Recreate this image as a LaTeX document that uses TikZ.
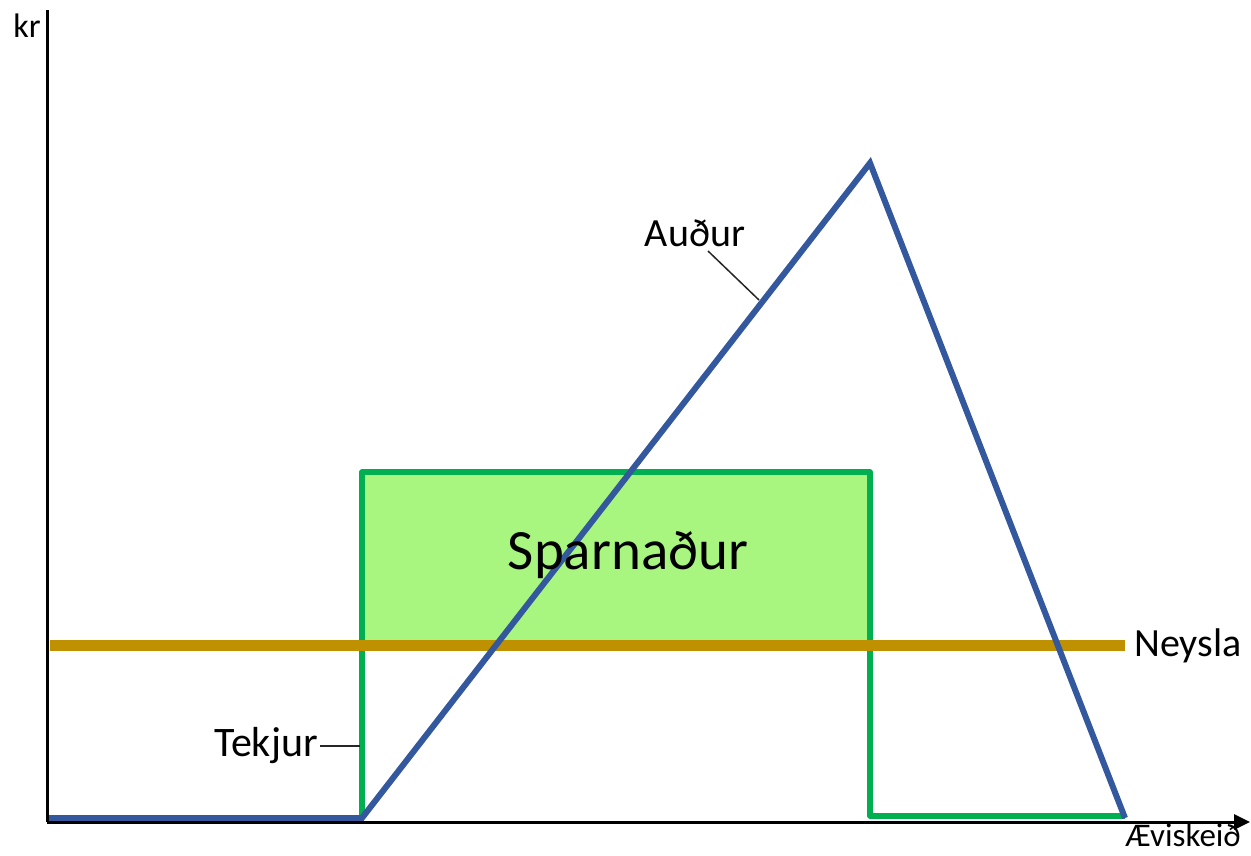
\documentclass[tikz,border=0pt]{standalone}
\usepackage{fontspec}
\setmainfont{Carlito}
\usetikzlibrary{arrows.meta}
\definecolor{auburblue}{RGB}{52,88,158}
\definecolor{incgreen}{RGB}{0,176,80}
\definecolor{savfill}{RGB}{168,245,128}
\definecolor{consgold}{RGB}{191,144,0}
\tikzset{
  axisline/.style={line width=3pt,black},
  wealth/.style={line width=6pt,auburblue,line join=miter},
  income/.style={line width=5.5pt,incgreen,line join=round},
  consumption/.style={line width=11pt,consgold},
  leader/.style={line width=1.5pt,black!85},
  lbl/.style={inner sep=0pt,font=\fontsize{40}{44}\selectfont}
}
\begin{document}
\begin{tikzpicture}[x=1pt,y=-1pt]
\useasboundingbox (0,0) rectangle (1251,855);
% key points
\coordinate (o) at (47,822);
\coordinate (ytop) at (47,10);
\coordinate (xend) at (1250,822);
\coordinate (w0) at (47,818);
\coordinate (w1) at (362,818);
\coordinate (wpeak) at (870,163);
\coordinate (w2) at (1125,818);
\coordinate (g1) at (362,472);
\coordinate (g2) at (870,472);
\coordinate (g3) at (870,816);
\coordinate (g4) at (1125,816);
\coordinate (n0) at (50,645);
\coordinate (n1) at (1125,645);
% savings fill
\fill[savfill] (362,472) rectangle (870,645);
% income
\draw[income] (362,818) -- (g1) -- (g2) -- (g3) -- (g4);
% consumption
\draw[consumption] (n0) -- (n1);
% wealth
\draw[wealth] (w0) -- (w1) -- (wpeak) -- (w2);
% axes
\draw[axisline] (ytop) -- (o);
\draw[axisline,-{Triangle[length=16pt,width=15pt]}] (o) -- (xend);
% labels
\node[lbl,font=\fontsize{34}{36}\selectfont,anchor=base east] (kr) at (41,37) {kr};
\node[lbl,font=\fontsize{33}{36}\selectfont,anchor=base east] (aevi) at (1241,846) {Æviskeið};
\node[lbl,anchor=west] (neysla) at (1134,646) {Neysla};
\node[lbl,font=\fontsize{57}{62}\selectfont] (spar) at (628,555) {Sparnaður};
\node[lbl] (audur) at (695,233) {Auður};
\node[lbl,font=\fontsize{42}{46}\selectfont,anchor=east] (tekjur) at (318,746) {Tekjur};
% leaders
\coordinate (aTip) at (759,300);
\coordinate (tTip) at (360,746);
\draw[leader] (708,251) -- (aTip);
\draw[leader] (tekjur.east) ++(2,0) -- (tTip);
\end{tikzpicture}
\end{document}
